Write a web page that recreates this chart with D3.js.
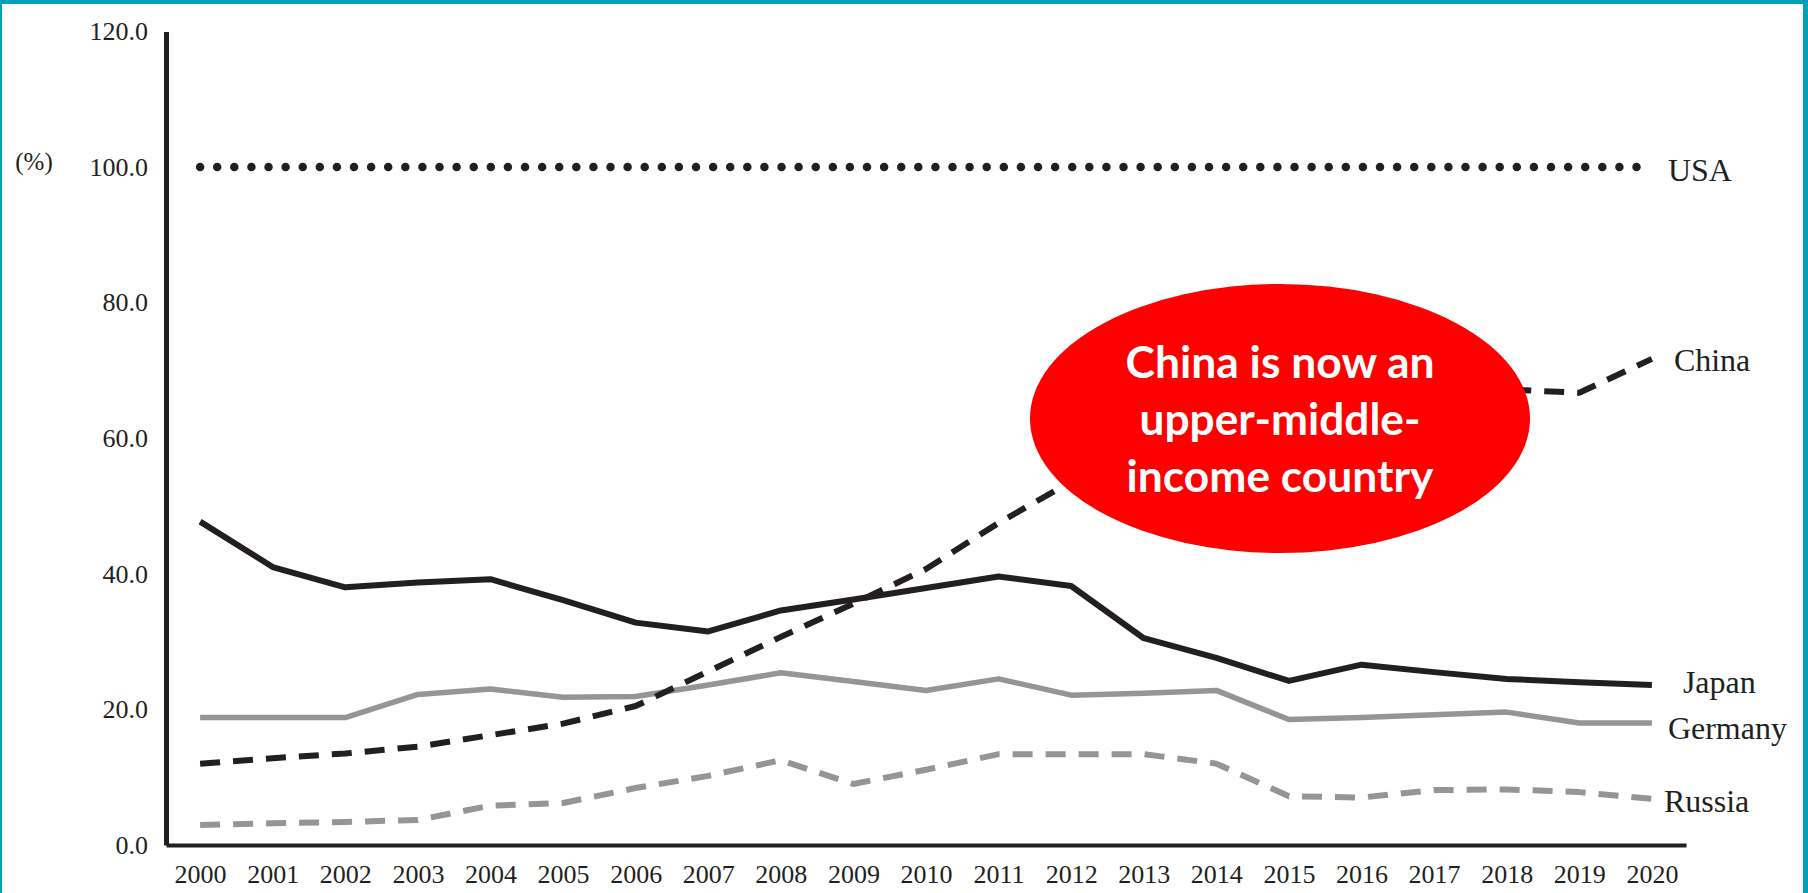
<!DOCTYPE html>
<html>
<head>
<meta charset="utf-8">
<script src="https://cdn.jsdelivr.net/npm/d3@7"></script>
<style>
  html, body { margin: 0; padding: 0; background: #fff; }
  svg { display: block; }
</style>
</head>
<body>
<svg id="chart" width="1808" height="893"></svg>
<script>
// GDP of selected economies as a share of the USA (%), 2000–2020
const years = d3.range(2000, 2021);
const usa     = [100,100,100,100,100,100,100,100,100,100,100,100,100,100,100,100,100,100,100,100,100];
const japan   = [47.7,41.0,38.0,38.7,39.2,36.1,32.8,31.5,34.6,36.2,37.9,39.6,38.2,30.5,27.6,24.2,26.6,25.5,24.5,24.0,23.6];
const germany = [18.8,18.8,18.8,22.2,23.0,21.8,21.9,23.6,25.4,24.1,22.8,24.5,22.1,22.4,22.8,18.5,18.8,19.2,19.6,18.0,18.0];
const china   = [12.0,12.8,13.5,14.5,16.2,17.9,20.5,25.6,30.7,35.6,40.7,47.5,53.6,57.0,60.2,60.8,60.0,63.0,67.2,66.7,71.7];
const russia  = [2.95,3.2,3.4,3.7,5.8,6.2,8.4,10.2,12.5,9.0,11.1,13.4,13.4,13.4,12.0,7.2,7.0,8.1,8.2,7.8,6.8];
const yTicks  = [0, 20, 40, 60, 80, 100, 120];
const unitLabel = "(%)";
const calloutLines = ["China is now an", "upper-middle-", "income country"];

const svg = d3.select("#chart");
const ink = "#231f20", grey = "#939598", teal = "#05a0b6";
const serif = "'Liberation Serif', 'DejaVu Serif', serif";

// frame
svg.append("rect").attr("x", 0).attr("y", 0).attr("width", 1808).attr("height", 893).attr("fill", "#fff");
svg.append("rect").attr("x", 0).attr("y", 0).attr("width", 1808).attr("height", 4).attr("fill", teal);
svg.append("rect").attr("x", 0).attr("y", 0).attr("width", 2).attr("height", 893).attr("fill", teal);
svg.append("rect").attr("x", 1803).attr("y", 0).attr("width", 5).attr("height", 893).attr("fill", teal);

// scales
const x = d3.scalePoint().domain(years).range([166, 1686]).padding(0.47);
const y = d3.scaleLinear().domain([0, 120]).range([845, 31.4]);

// axes
const yAxis = svg.append("g").attr("transform", "translate(166,0)")
  .call(d3.axisLeft(y).tickValues(yTicks).tickFormat(d3.format(".1f")).tickSize(0).tickSizeOuter(0).tickPadding(18));
yAxis.select(".domain").attr("stroke", ink).attr("stroke-width", 5);
yAxis.selectAll("text").attr("font-family", serif).attr("font-size", 26).attr("fill", ink);

const xAxis = svg.append("g").attr("transform", "translate(0,845)")
  .call(d3.axisBottom(x).tickSize(0).tickSizeOuter(0).tickPadding(19.5));
xAxis.select(".domain").attr("stroke", ink).attr("stroke-width", 4);
xAxis.selectAll("text").attr("font-family", serif).attr("font-size", 26).attr("fill", ink);

svg.append("text").attr("x", 34).attr("y", y(100) - 6)
  .attr("text-anchor", "middle").attr("dominant-baseline", "central")
  .attr("font-family", serif).attr("font-size", 25).attr("fill", ink).text(unitLabel);

// series
const series = [
  { name: "Germany", values: germany, color: grey, width: 5.5, dash: null, cap: "butt", dx: 16, dy: 5 },
  { name: "Russia",  values: russia,  color: grey, width: 6,   dash: "20 13", cap: "butt", dx: 12, dy: 2 },
  { name: "Japan",   values: japan,   color: ink,  width: 6,   dash: null, cap: "butt", dx: 31, dy: -3 },
  { name: "China",   values: china,   color: ink,  width: 6,   dash: "20 13", cap: "butt", dx: 22, dy: 1 },
  { name: "USA",     values: usa,     color: ink,  width: 8.5, dash: "0 17.1", cap: "round", dx: 16, dy: 3 }
];

const line = d3.line().x((d, i) => x(years[i])).y(d => y(d));

series.forEach(s => {
  svg.append("path").datum(s.values)
    .attr("d", line)
    .attr("fill", "none")
    .attr("stroke", s.color)
    .attr("stroke-width", s.width)
    .attr("stroke-linejoin", "round")
    .attr("stroke-linecap", s.cap)
    .attr("stroke-dasharray", s.dash);
});

series.forEach(s => {
  const last = s.values[s.values.length - 1];
  svg.append("text")
    .attr("x", x(years[years.length - 1]) + s.dx)
    .attr("y", y(last) + s.dy)
    .attr("dominant-baseline", "central")
    .attr("font-family", serif).attr("font-size", 32).attr("fill", ink)
    .text(s.name);
});

// callout
const callout = svg.append("g").attr("transform", "translate(1280,418.5)");
callout.append("ellipse").attr("rx", 250).attr("ry", 134.5).attr("fill", "#fe0000");
const calloutWidths = [309, 281, 307];
calloutLines.forEach((t, i) => {
  callout.append("text")
    .attr("x", 0).attr("y", -40.5 + i * 57)
    .attr("text-anchor", "middle")
    .attr("font-family", "Lato, 'Open Sans', sans-serif")
    .attr("font-weight", "bold").attr("font-size", 43).attr("fill", "#fff")
    .attr("textLength", calloutWidths[i]).attr("lengthAdjust", "spacingAndGlyphs")
    .text(t);
});
</script>
</body>
</html>
